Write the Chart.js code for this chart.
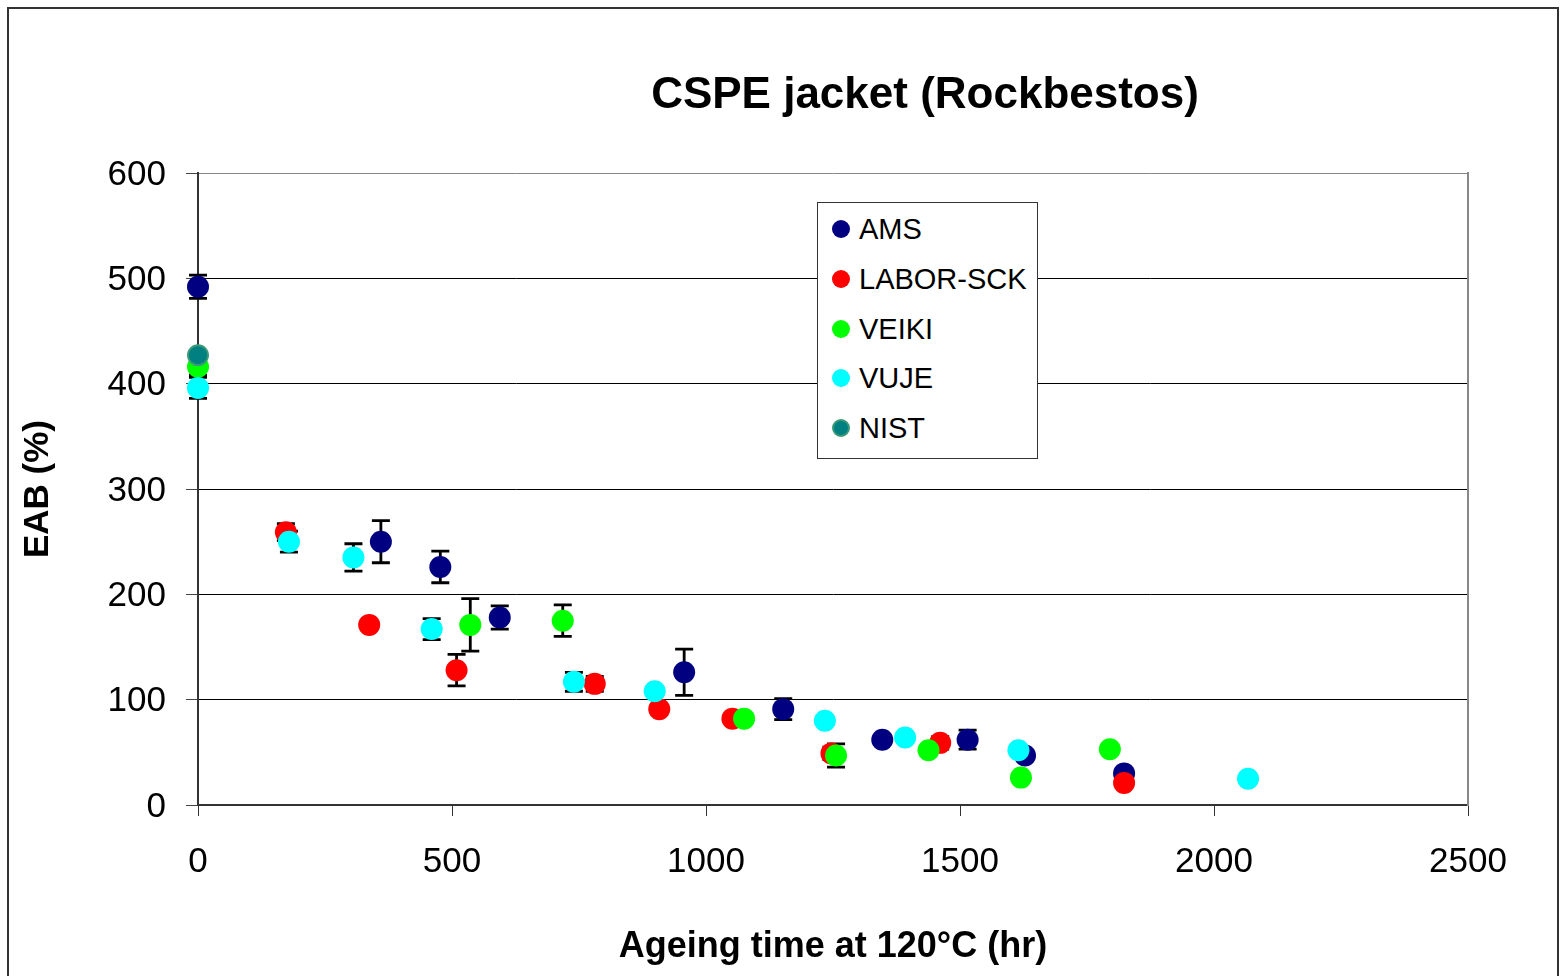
<!DOCTYPE html>
<html>
<head>
<meta charset="utf-8">
<script src="https://cdn.jsdelivr.net/npm/chart.js@4/dist/chart.umd.min.js"></script>
<style>
  html, body { margin: 0; padding: 0; background: #fff; }
  body { width: 1560px; height: 976px; overflow: hidden; position: relative; font-family: "Liberation Sans", Arial, sans-serif; }
  #wrap { position: absolute; left: 0; top: 0; width: 1560px; height: 976px; }
  #frame { position: absolute; left: 7px; top: 7px; width: 1548px; height: 1000px; border: 2px solid #333; pointer-events: none; }
  #title { position: absolute; left: 925px; top: 71px; transform: translateX(-50%); font: bold 44px "Liberation Sans", Arial, sans-serif; line-height: 44px; white-space: nowrap; color: #000; }
  #legend { position: absolute; left: 817px; top: 202px; width: 219px; height: 255px; border: 1px solid #333; background: #fff; }
  .row { position: absolute; left: 0; height: 50px; display: flex; align-items: center; font: 29px "Liberation Sans", Arial, sans-serif; line-height: 50px; color: #000; white-space: nowrap; }
  .dot { width: 18px; height: 18px; border-radius: 50%; margin-left: 14px; margin-right: 9px; box-sizing: border-box; }
</style>
</head>
<body>
<div id="wrap"><canvas id="c"></canvas></div>
<div id="title">CSPE jacket (Rockbestos)</div>
<div id="legend"></div>
<div id="frame"></div>
<script>
// ---- data ----
const seriesNames = ["AMS", "LABOR-SCK", "VEIKI", "VUJE", "NIST"];
const seriesColors = ["#000080", "#FF0000", "#00FF00", "#00FFFF", "#008080"];

const amsX   = [0, 360, 477, 594, 957, 1152, 1347, 1515, 1628, 1823];
const amsY   = [492, 250, 226, 178, 126, 91, 62, 62, 47, 30];
const amsErr = [11, 20, 15, 11, 22, 10, 4, 9, 5, 3];

const laborX   = [173, 337, 509, 781, 908, 1052, 1247, 1461, 1823];
const laborY   = [259, 171, 128, 115, 91, 82, 49, 59, 21];
const laborErr = [8, 3, 15, 7, 3, 3, 6, 6, 3];

const veikiX   = [0, 536, 718, 1075, 1256, 1438, 1620, 1795];
const veikiY   = [416, 171, 175, 82, 47, 52, 26, 53];
const veikiErr = [8, 25, 15, 3, 11, 3, 3, 3];

const vujeX   = [0, 179, 306, 460, 740, 899, 1234, 1392, 1615, 2067];
const vujeY   = [396, 250, 235, 167, 117, 108, 80, 64, 52, 25];
const vujeErr = [10, 10, 13, 10, 9, 3, 3, 3, 3, 4];

const nistX   = [0];
const nistY   = [427];
const nistErr = [3];

const xTicksStep = 500, xMin = 0, xMax = 2500;
const yTicksStep = 100, yMin = 0, yMax = 600;

const xTitle = "Ageing time at 120°C (hr)";
const yTitle = "EAB (%)";

// ---- build ----
function pts(xs, ys) { return xs.map((x, i) => ({ x: x, y: ys[i] })); }
const allX = [amsX, laborX, veikiX, vujeX, nistX];
const allY = [amsY, laborY, veikiY, vujeY, nistY];
const allErr = [amsErr, laborErr, veikiErr, vujeErr, nistErr];

const datasets = seriesNames.map((name, i) => ({
  label: name,
  data: pts(allX[i], allY[i]),
  errors: allErr[i],
  backgroundColor: seriesColors[i],
  borderColor: i === 4 ? "#3a9a78" : seriesColors[i],
  borderWidth: i === 4 ? 2 : 0,
  pointRadius: i === 4 ? 10 : 11,
  pointHoverRadius: 11,
  showLine: false,
  clip: false,
  order: seriesNames.length - i
}));

const errorBars = {
  id: "errorBars",
  beforeDatasetsDraw(chart) {
    const ctx = chart.ctx, xs = chart.scales.x, ys = chart.scales.y;
    ctx.save();
    ctx.strokeStyle = "#000";
    ctx.lineWidth = 2.8;
    chart.data.datasets.forEach(ds => {
      ds.data.forEach((p, j) => {
        const e = ds.errors[j];
        const px = xs.getPixelForValue(p.x);
        const top = ys.getPixelForValue(p.y + e);
        const bot = ys.getPixelForValue(p.y - e);
        ctx.beginPath();
        ctx.moveTo(px, top); ctx.lineTo(px, bot);
        ctx.moveTo(px - 9, top); ctx.lineTo(px + 9, top);
        ctx.moveTo(px - 9, bot); ctx.lineTo(px + 9, bot);
        ctx.stroke();
      });
    });
    ctx.restore();
  }
};

new Chart(document.getElementById("c"), {
  type: "scatter",
  data: { datasets: datasets },
  plugins: [errorBars],
  options: {
    responsive: true,
    maintainAspectRatio: false,
    animation: false,
    layout: { padding: { left: 0, right: 92, top: 173, bottom: 0 } },
    plugins: { legend: { display: false }, title: { display: false }, tooltip: { enabled: false } },
    scales: {
      x: {
        type: "linear", min: xMin, max: xMax, position: "bottom",
        ticks: { stepSize: xTicksStep, color: "#000", padding: 25, font: { family: "Liberation Sans", size: 35 }, maxRotation: 0, callback: v => String(v) },
        grid: { display: true, drawOnChartArea: false, drawTicks: true, tickLength: 11, tickColor: "#333", color: "#333" },
        border: { display: true, color: "#333", width: 2 },
        title: { display: true, text: xTitle, color: "#000", font: { family: "Liberation Sans", size: 36, weight: "bold" }, padding: { top: 0, bottom: 7 } },
        afterFit(s) { s.height = 171; }
      },
      y: {
        type: "linear", min: yMin, max: yMax, position: "left",
        ticks: { stepSize: yTicksStep, color: "#000", padding: 20, labelOffset: 2, font: { family: "Liberation Sans", size: 35 }, callback: v => String(v) },
        grid: {
          display: true, drawTicks: true, tickLength: 12, tickColor: "#444", lineWidth: 1,
          color: c => (c.tick && c.tick.value === yMax) ? "#888" : "#000"
        },
        border: { display: true, color: "#333", width: 2 },
        title: { display: true, text: yTitle, color: "#000", font: { family: "Liberation Sans", size: 35, weight: "bold" }, padding: { top: 17, bottom: 0 } },
        afterFit(s) { s.width = 198; }
      },
      y2: {
        type: "linear", min: yMin, max: yMax, position: "right",
        ticks: { display: false },
        grid: { display: false },
        border: { display: true, color: "#888", width: 2 },
        afterFit(s) { s.width = 0; }
      }
    }
  }
});

// HTML legend built from the series arrays
const leg = document.getElementById("legend");
seriesNames.forEach((name, i) => {
  const row = document.createElement("div");
  row.className = "row";
  row.style.top = (1 + i * 49.8) + "px";
  const dot = document.createElement("span");
  dot.className = "dot";
  dot.style.background = seriesColors[i];
  if (i === 4) dot.style.border = "2px solid #3a9a78";
  const t = document.createElement("span");
  t.textContent = name;
  row.appendChild(dot); row.appendChild(t);
  leg.appendChild(row);
});
</script>
</body>
</html>
